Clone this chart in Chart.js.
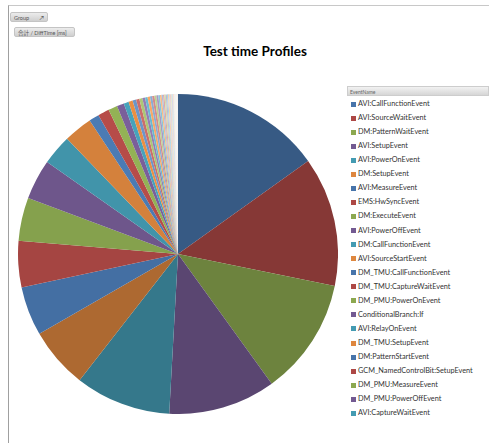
<!DOCTYPE html>
<html>
<head>
<meta charset="utf-8">
<script src="https://cdn.jsdelivr.net/npm/chart.js@4"></script>
<style>
  html,body{margin:0;padding:0;background:#fff;}
  body{width:489px;height:443px;position:relative;overflow:hidden;font-family:Lato,"Noto Sans CJK JP",sans-serif;}
  #frame{position:absolute;left:8px;top:5px;width:490px;height:450px;border-left:1px solid #a0a0a0;border-top:1px solid #c8c8c8;}
  .btn{position:absolute;height:10px;line-height:10px;font-size:5.5px;color:#555;background:linear-gradient(#ececec,#cfcfcf);border:1px solid #c4c4c4;border-radius:2px;padding:0 3px;box-sizing:border-box;}
  #title{position:absolute;left:150px;width:210px;top:43px;text-align:center;font-weight:bold;font-size:13.5px;color:#000;}
  #chartbox{position:absolute;left:18px;top:94px;width:320px;height:320px;}
  #lhead{position:absolute;left:347px;top:86px;width:142px;height:10px;line-height:10px;font-size:5px;color:#666;background:linear-gradient(#f2f2f2,#d6d6d6);border:1px solid #cdcdcd;box-sizing:border-box;padding-left:2px;}
  #legend{position:absolute;left:351px;top:0;}
  .li{position:absolute;white-space:nowrap;font-size:7.3px;color:#333;height:8px;line-height:8px;}
  .sw{position:absolute;left:0;top:1.5px;width:5px;height:5px;}
  .lt{position:absolute;left:7px;top:0;}
</style>
</head>
<body>
<div id="frame"></div>
<div class="btn" style="left:10px;top:12px;width:38px;">Group<span style="position:absolute;right:3px;top:0;font-size:6px;color:#444;">&#x2197;</span></div>
<div class="btn" style="left:14px;top:27px;width:61px;">合計 / DiffTime [ms]</div>
<div id="title">Test time Profiles</div>
<div id="chartbox"><canvas id="c" width="320" height="320"></canvas></div>
<div id="lhead">EventName</div>
<div id="legend"></div>
<script>
// Event names (only the first 23 are visible in the legend; the rest are hidden)
const eventNames = [
  "AVI:CallFunctionEvent","AVI:SourceWaitEvent","DM:PatternWaitEvent","AVI:SetupEvent",
  "AVI:PowerOnEvent","DM:SetupEvent","AVI:MeasureEvent","EMS:HwSyncEvent",
  "DM:ExecuteEvent","AVI:PowerOffEvent","DM:CallFunctionEvent","AVI:SourceStartEvent",
  "DM_TMU:CallFunctionEvent","DM_TMU:CaptureWaitEvent","DM_PMU:PowerOnEvent","ConditionalBranch:If",
  "AVI:RelayOnEvent","DM_TMU:SetupEvent","DM:PatternStartEvent","GCM_NamedControlBit:SetupEvent",
  "DM_PMU:MeasureEvent","DM_PMU:PowerOffEvent","AVI:CaptureWaitEvent"
];
// Sum of DiffTime (relative shares)
const mainValues = [54.4,47.1,42.6,39.0,34.8,22.1,17.8,16.9,15.7,14.6,11.0,10.4,3.7,4.1,3.3,2.6,1.8];
const tailValues = [1.5,1.3,1.2,1.1,1.0,0.9,0.9,0.8,0.8,0.7,0.7,0.6,0.6,0.5,0.5,0.5,0.4,0.4,0.4,0.35,0.3,0.3,0.3,0.25,0.25,0.2,0.2,0.2,0.15,0.15,0.15,0.1,0.1,0.1,0.1];
const legendCount = 23;

const values = mainValues.concat(tailValues);
const labels = values.map((v,i)=> i < eventNames.length ? eventNames[i] : "");

const hues = [[79,129,189],[192,80,77],[155,187,89],[128,100,162],[75,172,198],[247,150,70]];
function tierColor(i){
  const h = hues[i%6], t = Math.floor(i/6);
  let f, w;
  if(t===0){f=0.70;w=0;}
  else if(t===1){f=0.86;w=0;}
  else if(t===2){f=0.95;w=0;}
  else {f=1;w=Math.min(0.85,(t-2)*0.17);}
  const c = h.map(v=>Math.round((v*f)*(1-w)+255*w));
  return `rgb(${c[0]},${c[1]},${c[2]})`;
}
const colors = values.map((v,i)=>tierColor(i));
function legendColor(i){
  const h = hues[i%6]; const f = 0.9;
  return `rgb(${h.map(v=>Math.round(v*f)).join(',')})`;
}

new Chart(document.getElementById('c'), {
  type:'pie',
  data:{labels:labels, datasets:[{data:values, backgroundColor:colors, borderWidth:0}]},
  options:{
    responsive:false, animation:false,
    layout:{padding:0},
    plugins:{legend:{display:false}, title:{display:false}, tooltip:{enabled:false}}
  }
});

const lg = document.getElementById('legend');
for(let i=0;i<legendCount;i++){
  const d = document.createElement('div');
  d.className='li';
  d.style.top = (100 + i*14.06) + 'px';
  d.innerHTML = `<span class="sw" style="background:${legendColor(i)}"></span><span class="lt"></span>`;
  d.querySelector('.lt').textContent = eventNames[i];
  lg.appendChild(d);
}
</script>
</body>
</html>
